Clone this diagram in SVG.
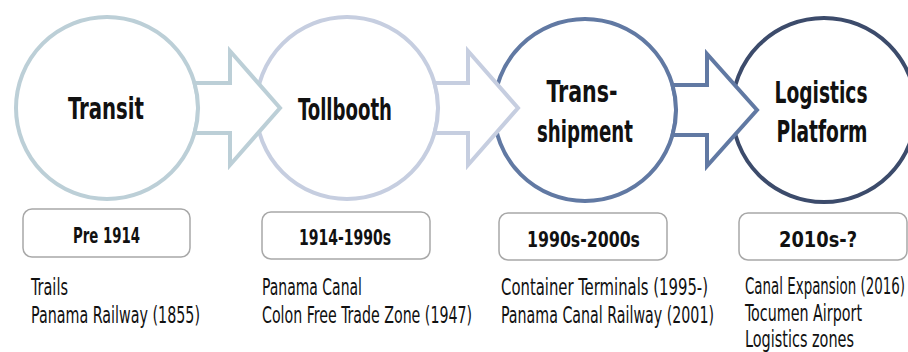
<svg xmlns="http://www.w3.org/2000/svg" width="908" height="352" viewBox="0 0 908 352">
<style>
.c{fill:#fff;stroke-width:4}
.a{fill:#fff;stroke-width:4;stroke-linejoin:miter}
.t{font-family:"Liberation Sans Narrow","DejaVu Sans Condensed","Liberation Sans",sans-serif;font-weight:bold;font-size:30px;fill:#111;text-anchor:middle}
.b{fill:#fff;stroke:#a8a8a8;stroke-width:1.5}
.bl{font-family:"Liberation Sans Narrow","DejaVu Sans Condensed","Liberation Sans",sans-serif;font-weight:bold;font-size:22px;fill:#111;text-anchor:middle}
.d{font-family:"Liberation Sans Narrow","DejaVu Sans Condensed","Liberation Sans",sans-serif;font-size:22.5px;fill:#111}
</style>
<rect width="908" height="352" fill="#fff"/>
<g id="transit">
<circle class="c" cx="107" cy="108" r="91" stroke="#bccfd7"/>
<text class="t" x="106" y="119" textLength="76" lengthAdjust="spacingAndGlyphs">Transit</text>
</g>
<g id="tollbooth">
<circle class="c" cx="347" cy="108" r="91" stroke="#c6cee0"/>
<text class="t" x="345" y="120" textLength="94" lengthAdjust="spacingAndGlyphs">Tollbooth</text>
</g>
<g id="transshipment">
<circle class="c" cx="585" cy="110" r="91" stroke="#6179a3"/>
<text class="t" x="582" y="102" textLength="71" lengthAdjust="spacingAndGlyphs">Trans-</text>
<text class="t" x="585" y="142" textLength="96" lengthAdjust="spacingAndGlyphs">shipment</text>
</g>
<g id="logistics">
<circle class="c" cx="824" cy="110" r="92" stroke="#3c4b6b"/>
<text class="t" x="821" y="103" textLength="93" lengthAdjust="spacingAndGlyphs">Logistics</text>
<text class="t" x="822" y="142" textLength="91" lengthAdjust="spacingAndGlyphs">Platform</text>
</g>
<g id="connectors">
<path class="a" stroke="#bccfd7" d="M194.5,83 H230 V51 L280,108 L230,165 V133 H194.5 A91 91 0 0 0 194.5,83 Z"/>
<path class="a" stroke="#c6cee0" d="M434.5,83 H468 V51 L518,108 L468,165 V133 H434.5 A91 91 0 0 0 434.5,83 Z"/>
<path class="a" stroke="#6179a3" d="M672.5,85 H707 V54 L757,110 L707,166 V135 H672.5 A91 91 0 0 0 672.5,85 Z"/>
</g>
<g id="period-1">
<rect class="b" x="23" y="209" width="167" height="48" rx="9"/>
<text class="bl" x="106.5" y="243" textLength="67" lengthAdjust="spacingAndGlyphs">Pre 1914</text>
</g>
<g id="period-2">
<rect class="b" x="262" y="212" width="168" height="47" rx="9"/>
<text class="bl" x="345" y="245" textLength="92" lengthAdjust="spacingAndGlyphs">1914-1990s</text>
</g>
<g id="period-3">
<rect class="b" x="499" y="213" width="168" height="47" rx="9"/>
<text class="bl" x="583.5" y="247" textLength="113" lengthAdjust="spacingAndGlyphs">1990s-2000s</text>
</g>
<g id="period-4">
<rect class="b" x="739" y="213" width="168" height="47" rx="9"/>
<text class="bl" x="818" y="247" textLength="78" lengthAdjust="spacingAndGlyphs">2010s-?</text>
</g>
<g id="items-1">
<text class="d" transform="translate(31,295) scale(0.65,1)" textLength="56.9" lengthAdjust="spacingAndGlyphs">Trails</text>
<text class="d" transform="translate(31,323) scale(0.65,1)" textLength="260" lengthAdjust="spacingAndGlyphs">Panama Railway (1855)</text>
</g>
<g id="items-2">
<text class="d" transform="translate(262,295) scale(0.65,1)" textLength="153.8" lengthAdjust="spacingAndGlyphs">Panama Canal</text>
<text class="d" transform="translate(262,323) scale(0.65,1)" textLength="323.1" lengthAdjust="spacingAndGlyphs">Colon Free Trade Zone (1947)</text>
</g>
<g id="items-3">
<text class="d" transform="translate(501,295) scale(0.65,1)" textLength="318.5" lengthAdjust="spacingAndGlyphs">Container Terminals (1995-)</text>
<text class="d" transform="translate(501,323) scale(0.65,1)" textLength="327.7" lengthAdjust="spacingAndGlyphs">Panama Canal Railway (2001)</text>
</g>
<g id="items-4">
<text class="d" transform="translate(745,294) scale(0.65,1)" textLength="246.2" lengthAdjust="spacingAndGlyphs">Canal Expansion (2016)</text>
<text class="d" transform="translate(745,320.5) scale(0.65,1)" textLength="180" lengthAdjust="spacingAndGlyphs">Tocumen Airport</text>
<text class="d" transform="translate(745,346.5) scale(0.65,1)" textLength="167.7" lengthAdjust="spacingAndGlyphs">Logistics zones</text>
</g>
</svg>
